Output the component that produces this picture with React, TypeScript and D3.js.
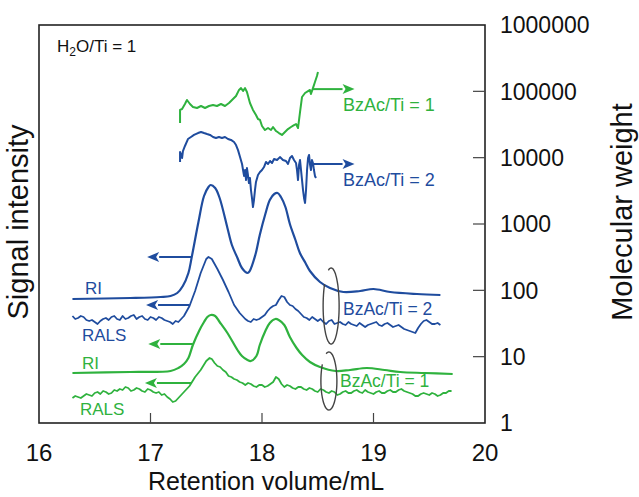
import React from 'react';
import * as d3 from 'd3';

// ---- chart data -------------------------------------------------------------
// Retention volume (mL) vs. detector signal (arbitrary units, 0–398)
const xTickValues = [16, 17, 18, 19, 20];
const xInnerTicks = [17, 18, 19];
const mwTickValues = [1, 10, 100, 1000, 10000, 100000, 1000000];
const mwInnerTicks = [10, 100, 1000, 10000, 100000];

// BzAc/Ti = 2 — refractive index
const blueRI: [number, number][] = [
  [16.30, 124], [16.82, 125], [17.09, 126], [17.18, 127], [17.24, 130], [17.29, 137],
  [17.34, 150], [17.37, 166], [17.43, 201], [17.48, 227], [17.52, 236], [17.54, 238],
  [17.58, 235], [17.62, 225], [17.69, 195], [17.73, 178], [17.78, 165], [17.82, 155],
  [17.87, 150], [17.89, 152], [17.94, 168], [17.98, 188], [18.03, 209], [18.07, 223],
  [18.11, 229], [18.14, 230], [18.17, 226], [18.21, 216], [18.25, 199], [18.30, 183],
  [18.34, 170], [18.39, 160], [18.43, 152], [18.52, 141], [18.61, 135], [18.73, 131],
  [18.88, 132], [19.00, 134], [19.15, 131], [19.39, 129], [19.60, 128],
];

// BzAc/Ti = 2 — right-angle light scattering
const blueRALS: [number, number][] = [
  [16.30, 107], [16.325, 104], [16.35, 105], [16.375, 107], [16.40, 106], [16.425, 103],
  [16.45, 102], [16.475, 103], [16.50, 101], [16.525, 99], [16.55, 102], [16.575, 104],
  [16.60, 105], [16.625, 103], [16.65, 106], [16.675, 107], [16.70, 104], [16.725, 103],
  [16.75, 107], [16.775, 104], [16.80, 105], [16.825, 107], [16.85, 108], [16.875, 104],
  [16.90, 106], [16.925, 107], [16.95, 104], [16.975, 103], [17.00, 106], [17.025, 105],
  [17.05, 103], [17.075, 106], [17.10, 105], [17.125, 103], [17.15, 102], [17.175, 101],
  [17.20, 99], [17.225, 102], [17.25, 101], [17.275, 104], [17.30, 107], [17.35, 117],
  [17.40, 132], [17.45, 150], [17.50, 164], [17.52, 166], [17.55, 164], [17.60, 154],
  [17.65, 143], [17.70, 131], [17.75, 118], [17.80, 110], [17.85, 104], [17.875, 102],
  [17.90, 101], [17.925, 104], [17.95, 103], [17.975, 104], [18.00, 106], [18.025, 108],
  [18.05, 112], [18.075, 115], [18.10, 117], [18.125, 118], [18.15, 123], [18.175, 127],
  [18.20, 126], [18.225, 121], [18.25, 118], [18.275, 117], [18.30, 114], [18.325, 112],
  [18.35, 109], [18.375, 106], [18.40, 105], [18.425, 103], [18.45, 106], [18.475, 104],
  [18.50, 102], [18.525, 104], [18.55, 101], [18.575, 99], [18.60, 102], [18.625, 103],
  [18.65, 99], [18.675, 100], [18.70, 101], [18.725, 99], [18.75, 98], [18.775, 101],
  [18.80, 99], [18.825, 98], [18.85, 97], [18.875, 100], [18.90, 98], [18.925, 96],
  [18.95, 98], [18.975, 99], [19.00, 100], [19.025, 101], [19.05, 98], [19.075, 97],
  [19.10, 99], [19.125, 100], [19.15, 98], [19.175, 96], [19.20, 97], [19.225, 98],
  [19.25, 96], [19.275, 94], [19.30, 93], [19.325, 92], [19.35, 91], [19.375, 90],
  [19.40, 95], [19.425, 99], [19.45, 102], [19.475, 103], [19.50, 101], [19.525, 99],
  [19.55, 99], [19.575, 100], [19.60, 98],
];

// BzAc/Ti = 1 — refractive index
const greenRI: [number, number][] = [
  [16.30, 50], [16.82, 51], [17.18, 52], [17.25, 55], [17.30, 59], [17.34, 65],
  [17.38, 78], [17.44, 93], [17.48, 101], [17.51, 106], [17.54, 108], [17.58, 107],
  [17.62, 101], [17.69, 90], [17.78, 73], [17.82, 67], [17.87, 63], [17.90, 62],
  [17.95, 67], [17.98, 78], [18.03, 92], [18.07, 100], [18.12, 104], [18.15, 103],
  [18.20, 98], [18.25, 86], [18.31, 75], [18.36, 68], [18.43, 61], [18.52, 56],
  [18.66, 52], [18.79, 53], [18.94, 55], [19.10, 53], [19.24, 51], [19.46, 50], [19.71, 49],
];

// BzAc/Ti = 1 — right-angle light scattering
const greenRALS: [number, number][] = [
  [16.30, 25], [16.325, 27], [16.35, 26], [16.375, 25], [16.40, 27], [16.425, 29],
  [16.45, 28], [16.475, 27], [16.50, 30], [16.525, 31], [16.55, 29], [16.575, 32],
  [16.60, 31], [16.625, 29], [16.65, 30], [16.675, 33], [16.70, 32], [16.725, 34],
  [16.75, 33], [16.775, 36], [16.80, 35], [16.825, 32], [16.85, 33], [16.875, 35],
  [16.90, 34], [16.925, 32], [16.95, 31], [16.975, 34], [17.00, 33], [17.025, 31],
  [17.05, 30], [17.075, 31], [17.10, 28], [17.125, 29], [17.15, 26], [17.175, 24],
  [17.20, 21], [17.225, 22], [17.25, 25], [17.275, 28], [17.30, 31], [17.35, 37],
  [17.40, 46], [17.45, 53], [17.50, 62], [17.53, 65], [17.55, 64], [17.575, 60],
  [17.60, 57], [17.625, 56], [17.65, 53], [17.675, 51], [17.70, 47], [17.725, 46],
  [17.75, 44], [17.775, 43], [17.80, 41], [17.825, 40], [17.85, 38], [17.875, 40],
  [17.90, 39], [17.925, 37], [17.95, 36], [17.975, 38], [18.00, 38], [18.025, 36],
  [18.05, 37], [18.075, 39], [18.10, 41], [18.125, 46], [18.15, 44], [18.175, 39],
  [18.20, 36], [18.225, 38], [18.25, 37], [18.275, 35], [18.30, 34], [18.325, 36],
  [18.35, 36], [18.375, 34], [18.40, 33], [18.425, 35], [18.45, 34], [18.475, 32],
  [18.50, 31], [18.525, 34], [18.55, 33], [18.575, 31], [18.60, 30], [18.625, 32],
  [18.65, 31], [18.675, 28], [18.70, 29], [18.725, 31], [18.75, 32], [18.775, 30],
  [18.80, 30], [18.825, 32], [18.85, 33], [18.875, 31], [18.90, 30], [18.925, 33],
  [18.95, 31], [18.975, 30], [19.00, 29], [19.025, 31], [19.05, 32], [19.075, 30],
  [19.10, 30], [19.125, 32], [19.15, 33], [19.175, 31], [19.20, 31], [19.225, 33],
  [19.25, 34], [19.275, 32], [19.30, 31], [19.325, 30], [19.35, 29], [19.375, 27],
  [19.40, 27], [19.425, 29], [19.45, 30], [19.475, 29], [19.50, 28], [19.525, 30],
  [19.55, 29], [19.575, 27], [19.60, 28], [19.625, 30], [19.65, 30], [19.675, 32], [19.70, 32],
];

// Molecular weight (right log axis)
const greenMW: [number, number][] = [
  [17.265, 33300], [17.265, 52400], [17.283, 54200], [17.309, 64400], [17.327, 74000],
  [17.354, 64400], [17.381, 58100], [17.417, 56100], [17.453, 60100], [17.489, 56100],
  [17.525, 60100], [17.561, 62200], [17.596, 60100], [17.632, 64400], [17.668, 60100],
  [17.704, 66700], [17.740, 76600], [17.767, 85100], [17.794, 105000], [17.812, 112000],
  [17.830, 101000], [17.848, 112000], [17.865, 97700], [17.892, 66700], [17.919, 52400],
  [17.946, 44000], [17.964, 38300], [17.982, 37000], [18.000, 30000], [18.027, 26100],
  [18.054, 28000], [18.081, 26100], [18.099, 29000], [18.126, 25200], [18.152, 23500],
  [18.179, 22000], [18.206, 24400], [18.233, 27000], [18.260, 29000], [18.287, 31000],
  [18.305, 32100], [18.323, 28000], [18.341, 48800], [18.359, 82200], [18.386, 94400],
  [18.413, 101000], [18.430, 105000], [18.439, 91200], [18.457, 112000], [18.475, 138000],
  [18.493, 170000], [18.502, 195000],
];

const blueMW: [number, number][] = [
  [17.265, 8610], [17.265, 12200], [17.283, 9880], [17.291, 12600], [17.309, 15000],
  [17.336, 19100], [17.363, 20500], [17.390, 22000], [17.426, 23500], [17.453, 24400],
  [17.480, 23500], [17.507, 22700], [17.534, 22000], [17.561, 20500], [17.587, 19800],
  [17.614, 20500], [17.641, 19800], [17.668, 20500], [17.695, 19100], [17.722, 18500],
  [17.749, 17200], [17.767, 15500], [17.785, 13000], [17.803, 10200], [17.821, 8020],
  [17.830, 6510], [17.839, 5300], [17.848, 6510], [17.857, 4600], [17.865, 6980],
  [17.874, 5480], [17.883, 4150], [17.892, 4940], [17.901, 3250], [17.910, 2470],
  [17.919, 1800], [17.928, 2300], [17.937, 3250], [17.946, 4300], [17.964, 5480],
  [17.982, 6080], [18.000, 6510], [18.018, 7230], [18.036, 8610], [18.054, 8020],
  [18.072, 8920], [18.090, 8320], [18.108, 9550], [18.135, 9230], [18.161, 10200],
  [18.188, 9230], [18.215, 8920], [18.233, 8020], [18.251, 9880], [18.269, 10600],
  [18.287, 9230], [18.305, 8320], [18.314, 6510], [18.323, 4600], [18.332, 7750],
  [18.341, 9230], [18.350, 6510], [18.359, 4600], [18.368, 3250], [18.377, 2470],
  [18.386, 2070], [18.395, 3250], [18.404, 6510], [18.413, 9880], [18.422, 11000],
  [18.430, 8020], [18.439, 6510], [18.448, 9230], [18.457, 8320], [18.466, 6510],
  [18.475, 5300], [18.484, 4940],
];

// ---- styling ----------------------------------------------------------------
const BLUE = '#1f4c9e';
const GREEN = '#2fb23e';
const FONT = '"Liberation Sans", Arial, Helvetica, sans-serif';

const W = 639;
const H = 497;
const plot = { left: 39, right: 485, top: 25, bottom: 423 };

type Arrow = { from: number; to: number; y: number; axis: 'sig' | 'mw'; color: string };

export default function App() {
  const x = d3.scaleLinear().domain([16, 20]).range([plot.left, plot.right]);
  const sig = d3.scaleLinear().domain([0, 398]).range([plot.bottom, plot.top]);
  const mw = d3.scaleLog().domain([1, 1e6]).range([plot.bottom, plot.top]);

  const smooth = d3
    .line<[number, number]>()
    .x((d) => x(d[0]))
    .y((d) => sig(d[1]))
    .curve(d3.curveCatmullRom.alpha(0.5));
  const jagged = d3
    .line<[number, number]>()
    .x((d) => x(d[0]))
    .y((d) => sig(d[1]));
  const mwLine = d3
    .line<[number, number]>()
    .x((d) => x(d[0]))
    .y((d) => mw(d[1]));

  const arrows: Arrow[] = [
    { from: 17.37, to: 16.97, y: 166, axis: 'sig', color: BLUE },
    { from: 17.35, to: 16.96, y: 118, axis: 'sig', color: BLUE },
    { from: 17.38, to: 16.98, y: 79, axis: 'sig', color: GREEN },
    { from: 17.37, to: 16.95, y: 40, axis: 'sig', color: GREEN },
    { from: 18.45, to: 18.83, y: 108000, axis: 'mw', color: GREEN },
    { from: 18.45, to: 18.83, y: 8020, axis: 'mw', color: BLUE },
  ];

  const drawArrow = (a: Arrow, i: number) => {
    const yy = a.axis === 'sig' ? sig(a.y) : mw(a.y);
    const x0 = x(a.from);
    const x1 = x(a.to);
    const dir = Math.sign(x1 - x0);
    const headLen = 12;
    const headHalf = 5;
    const base = x1 - dir * headLen;
    return (
      <g key={`arrow-${i}`}>
        <line x1={x0} y1={yy} x2={base} y2={yy} stroke={a.color} strokeWidth={2} />
        <path
          d={`M${x1},${yy} L${base},${yy - headHalf} L${base + dir * 3},${yy} L${base},${yy + headHalf} Z`}
          fill={a.color}
        />
      </g>
    );
  };

  // open elliptical loops grouping each RI/RALS pair
  const loop = (cx: number, cy: number, rx: number, ry: number) => {
    const pts: [number, number][] = d3
      .range(250, 250 + 330, 5)
      .map((deg) => {
        const t = (deg * Math.PI) / 180;
        return [cx + rx * Math.cos(t), cy + ry * Math.sin(t)];
      });
    return d3.line().curve(d3.curveCatmullRom)(pts) || '';
  };

  const textStyle = { fontFamily: FONT };

  return (
    <svg
      width={W}
      height={H}
      viewBox={`0 0 ${W} ${H}`}
      style={{ position: 'absolute', left: 0, top: 0, background: '#fff' }}
    >
      <rect x={0} y={0} width={W} height={H} fill="#fff" />

      {/* traces */}
      <path d={smooth(blueRI) || ''} fill="none" stroke={BLUE} strokeWidth={2.2} />
      <path d={jagged(blueRALS) || ''} fill="none" stroke={BLUE} strokeWidth={1.8} strokeLinejoin="round" />
      <path d={smooth(greenRI) || ''} fill="none" stroke={GREEN} strokeWidth={2.2} />
      <path d={jagged(greenRALS) || ''} fill="none" stroke={GREEN} strokeWidth={1.8} strokeLinejoin="round" />
      <path d={mwLine(greenMW) || ''} fill="none" stroke={GREEN} strokeWidth={2} strokeLinejoin="round" />
      <path d={mwLine(blueMW) || ''} fill="none" stroke={BLUE} strokeWidth={2} strokeLinejoin="round" />

      {arrows.map(drawArrow)}

      <path d={loop(x(18.62), sig(117), 8, 38)} fill="none" stroke="#444" strokeWidth={1.4} />
      <path d={loop(x(18.60), sig(42), 8, 29)} fill="none" stroke="#444" strokeWidth={1.4} />

      {/* frame */}
      <rect
        x={plot.left}
        y={plot.top}
        width={plot.right - plot.left}
        height={plot.bottom - plot.top}
        fill="none"
        stroke="#222"
        strokeWidth={1.6}
      />
      {xInnerTicks.map((t) => (
        <line key={`xt-${t}`} x1={x(t)} x2={x(t)} y1={plot.bottom} y2={plot.bottom - 10} stroke="#444" strokeWidth={1.2} />
      ))}
      {mwInnerTicks.map((t) => (
        <line key={`yt-${t}`} x1={plot.right} x2={plot.right - 12} y1={mw(t)} y2={mw(t)} stroke="#444" strokeWidth={1.2} />
      ))}

      {/* tick labels */}
      {xTickValues.map((t) => (
        <text key={`xl-${t}`} x={x(t)} y={461} textAnchor="middle" fontSize={24} fill="#111" style={textStyle}>
          {t}
        </text>
      ))}
      {mwTickValues.map((t) => (
        <text key={`yl-${t}`} x={500} y={mw(t)} dy="0.36em" fontSize={23} fill="#111" style={textStyle}>
          {d3.format('d')(t)}
        </text>
      ))}

      {/* axis titles */}
      <text x={266} y={490} textAnchor="middle" fontSize={25} fill="#111" style={textStyle}>
        Retention volume/mL
      </text>
      <text
        transform={`translate(18,222) rotate(-90)`}
        textAnchor="middle"
        dy="0.36em"
        fontSize={29}
        fill="#111"
        style={textStyle}
      >
        Signal intensity
      </text>
      <text
        transform={`translate(622,212) rotate(-90)`}
        textAnchor="middle"
        dy="0.36em"
        fontSize={29}
        fill="#111"
        style={textStyle}
      >
        Molecular weight
      </text>

      {/* annotations */}
      <text x={57} y={52} fontSize={17} fill="#111" style={textStyle}>
        H<tspan fontSize={12} dy={4}>2</tspan>
        <tspan dy={-4}>O/Ti = 1</tspan>
      </text>
      <text x={343} y={111} fontSize={18} fill={GREEN} style={textStyle}>BzAc/Ti = 1</text>
      <text x={343} y={186} fontSize={18} fill={BLUE} style={textStyle}>BzAc/Ti = 2</text>
      <text x={343} y={315} fontSize={17.5} fill={BLUE} style={textStyle}>BzAc/Ti = 2</text>
      <text x={340} y={387} fontSize={17.5} fill={GREEN} style={textStyle}>BzAc/Ti = 1</text>
      <text x={85} y={294} fontSize={17} fill={BLUE} style={textStyle}>RI</text>
      <text x={82} y={341} fontSize={17} fill={BLUE} style={textStyle}>RALS</text>
      <text x={82} y={369} fontSize={17} fill={GREEN} style={textStyle}>RI</text>
      <text x={80} y={415} fontSize={17} fill={GREEN} style={textStyle}>RALS</text>
    </svg>
  );
}
